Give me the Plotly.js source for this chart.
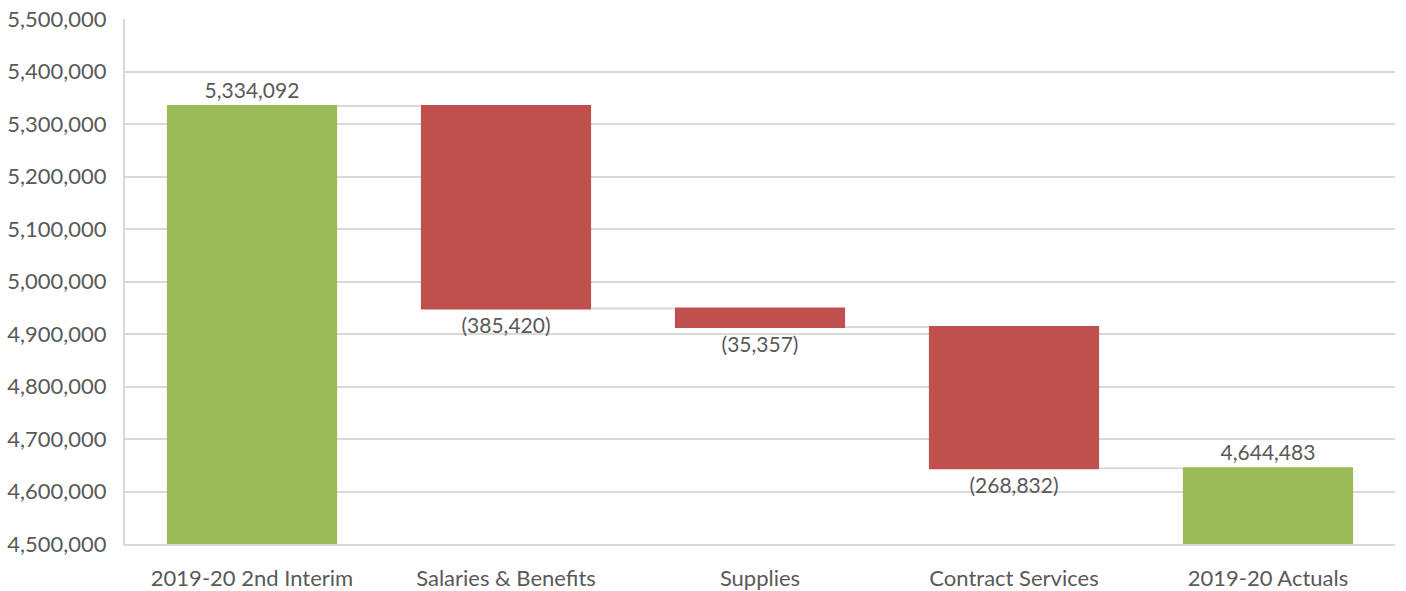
<!DOCTYPE html>
<html>
<head>
<meta charset="utf-8">
<script src="https://cdn.plot.ly/plotly-3.0.1.min.js"></script>
<style>html,body{margin:0;padding:0;background:#fff;}#chart{width:1406px;height:591px;}</style>
</head>
<body>
<div id="chart"></div>
<script>
const categories = ["2019-20 2nd Interim", "Salaries & Benefits", "Supplies", "Contract Services", "2019-20 Actuals"];
const measures = ["absolute", "relative", "relative", "relative", "total"];
const values = [5334092, -385420, -35357, -268832, 4644483];
const labels = ["5,334,092", "(385,420)", "(35,357)", "(268,832)", "4,644,483"];
const yTicks = [4500000, 4600000, 4700000, 4800000, 4900000, 5000000, 5100000, 5200000, 5300000, 5400000, 5500000];
const yTickText = ["4,500,000","4,600,000","4,700,000","4,800,000","4,900,000","5,000,000","5,100,000","5,200,000","5,300,000","5,400,000","5,500,000"];

const font = "Lato, 'Open Sans', sans-serif";
const trace = {
  type: "waterfall",
  x: categories,
  y: values,
  measure: measures,
  text: labels,
  textposition: "outside",
  textfont: {family: font, size: 21, color: "#595959"},
  cliponaxis: false,
  hoverinfo: "x+y",
  width: 0.67,
  decreasing: {marker: {color: "#C0504D"}},
  increasing: {marker: {color: "#9BBB59"}},
  totals: {marker: {color: "#9BBB59"}},
  connector: {line: {color: "#D9D9D9", width: 2}, mode: "between"}
};
const layout = {
  width: 1406, height: 591,
  margin: {l: 125, r: 11, t: 19, b: 47},
  paper_bgcolor: "#fff", plot_bgcolor: "#fff",
  showlegend: false,
  font: {family: font, color: "#595959", size: 21},
  xaxis: {
    showgrid: false, showline: true, linecolor: "#D9D9D9", linewidth: 2,
    tickfont: {family: font, size: 22, color: "#595959"}, ticks: "", ticklabelstandoff: 14
  },
  yaxis: {
    range: [4500000, 5500000], tickvals: yTicks, ticktext: yTickText,
    showgrid: true, gridcolor: "#D9D9D9", gridwidth: 2,
    showline: true, linecolor: "#D9D9D9", linewidth: 2, zeroline: false,
    tickfont: {family: font, size: 22, color: "#595959"}, ticks: "", ticklabelstandoff: 12
  }
};
Plotly.newPlot("chart", [trace], layout, {displayModeBar: false, staticPlot: true});
</script>
</body>
</html>
